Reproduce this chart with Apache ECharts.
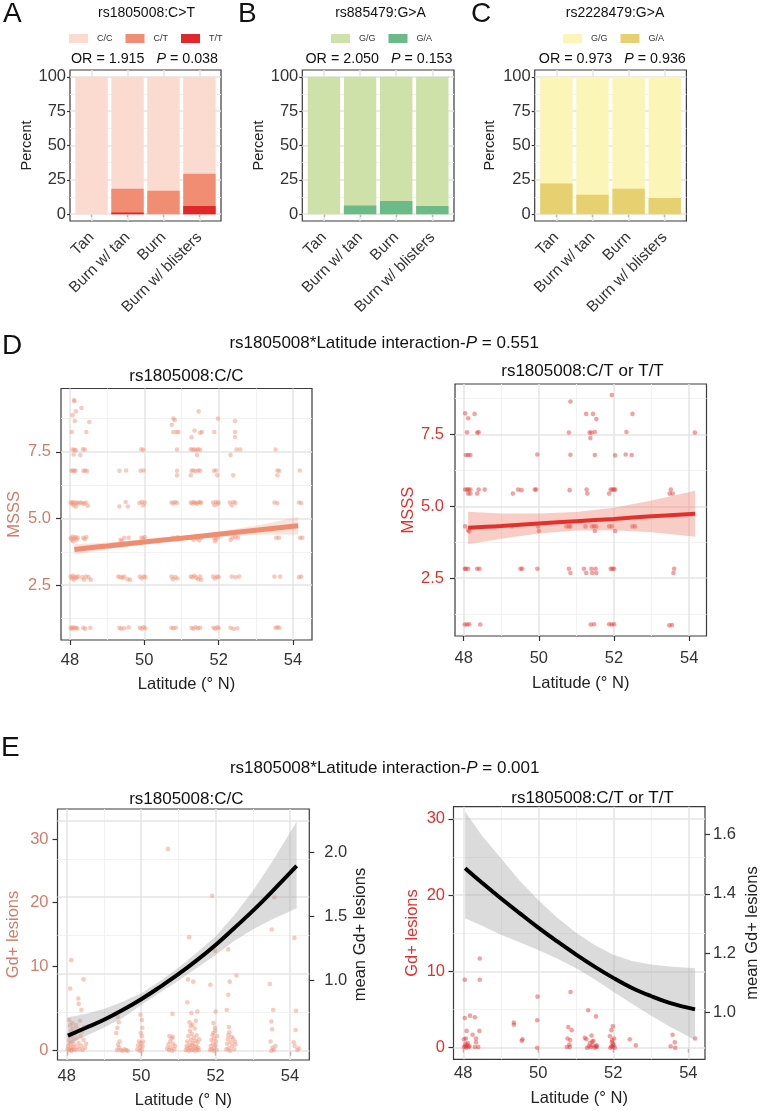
<!DOCTYPE html>
<html><head><meta charset="utf-8">
<script src="https://cdn.jsdelivr.net/npm/echarts@6/dist/echarts.min.js"></script>
<style>html,body{margin:0;padding:0;background:#fff}#c{width:762px;height:1111px}</style>
</head><body><div id="c"></div>
<script>
const FONT = '"Liberation Sans", Arial, Helvetica, sans-serif';
const SALMON_TXT = '#D47C68';
const RED_TXT = '#E5302A';

// ---------- Panels A-C : stacked genotype percentages ----------
const skinCats = ['Tan', 'Burn w/ tan', 'Burn', 'Burn w/ blisters'];
const aCC = [100, 81.5, 82.9, 70.5];
const aCT = [0, 17.3, 17.1, 23.5];
const aTT = [0, 1.2, 0, 6.0];
const bGG = [100, 93.7, 90.4, 94.0];
const bGA = [0, 6.3, 9.6, 6.0];
const cGG = [77.7, 85.8, 81.5, 88.2];
const cGA = [22.3, 14.2, 18.5, 11.8];
const pctTicks = [0, 25, 50, 75, 100];
const pctMinor = [12.5, 37.5, 62.5, 87.5];

// ---------- Shared tick labels ----------
const latTicks = [48, 50, 52, 54];
const latMinor = [49, 51, 53];
const msssTicks = [2.5, 5.0, 7.5];
const msssMinor = [1.25, 3.75, 6.25, 8.75];
const gdTicks = [0, 10, 20, 30];
const gdMinor = [5, 15, 25];
const eLeftGdLabelAt = [0, 10.95, 19.3, 27.56];
const eLeftMeanTicks = [1.0, 1.5, 2.0];
const eRightMeanTicks = [1.0, 1.2, 1.4, 1.6];

// ---------- Panel D : MSSS vs latitude ----------
const dLeftPts = [
 [48.11,9.45],[48.12,9.40],[48.16,9.02],[48.31,9.15],[48.07,8.88],[48.13,8.66],[48.52,8.62],[48.05,8.25],[48.44,8.25],
 [48.07,7.59],[48.12,7.58],[48.16,7.56],[48.35,7.60],[48.40,7.59],[48.10,7.40],[48.28,7.38],
 [48.04,6.79],[48.08,6.80],[48.12,6.78],[48.15,6.80],[48.36,6.79],[48.41,6.80],[48.46,6.78],
 [48.02,5.60],[48.05,5.55],[48.08,5.62],[48.10,5.50],[48.13,5.58],[48.16,5.45],[48.19,5.60],[48.22,5.56],[48.28,5.60],[48.33,5.58],[48.38,5.55],[48.43,5.60],[48.48,5.48],
 [48.02,4.27],[48.05,4.20],[48.07,4.32],[48.09,4.15],[48.12,4.25],[48.15,4.30],[48.18,4.20],[48.21,4.28],[48.36,4.28],[48.40,4.22],[48.44,4.30],
 [48.02,2.82],[48.05,2.75],[48.08,2.85],[48.11,2.70],[48.14,2.80],[48.18,2.78],[48.22,2.82],[48.33,2.80],[48.38,2.70],[48.43,2.82],[48.50,2.80],[48.56,2.70],
 [48.02,0.90],[48.05,0.86],[48.08,0.92],[48.12,0.88],[48.16,0.90],[48.20,0.87],[48.36,0.90],[48.41,0.86],[48.55,0.90],
 [49.33,6.79],[49.51,6.80],[49.33,5.45],[49.50,5.62],[49.56,5.45],[49.36,4.20],[49.46,4.28],[49.58,4.28],[49.40,4.15],
 [49.30,2.82],[49.36,2.80],[49.42,2.78],[49.46,2.82],[49.55,2.72],[49.62,2.70],[49.33,0.90],[49.38,0.86],[49.46,0.88],[49.58,0.92],
 [49.92,7.60],[49.97,7.58],[49.90,6.79],[49.98,6.80],[49.87,5.58],[49.93,5.62],[49.97,5.50],[50.01,5.60],[49.92,4.28],[49.97,4.25],[50.01,4.30],
 [49.88,2.82],[49.93,2.75],[49.98,2.82],[50.03,2.80],[49.88,0.90],[49.93,0.86],[49.98,0.92],[50.03,0.88],
 [50.78,8.75],[50.82,8.70],[50.74,8.52],[50.78,8.25],[50.87,8.25],[50.92,8.25],[50.88,7.59],[50.88,6.79],[50.88,6.62],
 [50.73,5.60],[50.78,5.56],[50.83,5.62],[50.88,5.58],[50.77,4.28],[50.83,4.25],[50.90,4.30],
 [50.73,2.82],[50.77,2.72],[50.83,2.80],[50.89,2.75],[50.73,0.90],[50.78,0.88],[50.85,0.90],
 [51.46,9.02],[51.35,8.30],[51.27,8.05],[51.55,8.25],[51.50,8.22],
 [51.25,7.60],[51.30,7.58],[51.35,7.60],[51.40,7.56],[51.45,7.60],[51.50,7.58],[51.42,7.38],
 [51.27,6.79],[51.32,6.80],[51.38,6.78],[51.45,6.80],[51.50,6.79],[51.25,6.62],
 [51.25,5.60],[51.29,5.56],[51.33,5.62],[51.37,5.58],[51.41,5.55],[51.45,5.60],[51.50,5.62],[51.53,5.58],
 [51.27,4.28],[51.32,4.20],[51.38,4.30],[51.43,4.25],[51.48,4.18],[51.52,4.28],
 [51.25,2.82],[51.30,2.80],[51.35,2.85],[51.40,2.78],[51.45,2.72],[51.50,2.82],[51.53,2.70],
 [51.27,0.90],[51.32,0.86],[51.38,0.92],[51.44,0.88],[51.50,0.90],
 [51.98,8.75],[51.88,8.25],[51.87,6.79],[51.93,6.80],[51.96,6.62],
 [51.85,5.60],[51.89,5.50],[51.93,5.62],[51.97,5.55],[52.00,5.60],[51.88,4.28],[51.93,4.22],[51.98,4.30],[51.90,4.15],
 [51.85,2.82],[51.90,2.75],[51.95,2.82],[52.00,2.80],[51.86,0.90],[51.91,0.86],[51.96,0.92],[52.00,0.88],
 [52.44,8.66],[52.44,8.25],[52.44,8.06],[52.48,7.59],[52.58,7.59],[52.32,7.38],[52.39,6.62],
 [52.30,5.60],[52.35,5.50],[52.40,5.62],[52.45,5.58],[52.32,4.20],[52.37,4.28],[52.45,4.30],[52.52,4.28],
 [52.35,2.82],[52.45,2.80],[52.55,2.82],[52.32,0.90],[52.40,0.86],[52.50,0.88],
 [53.53,7.59],[53.58,6.80],[53.63,6.79],[53.58,6.62],[53.50,5.60],[53.58,5.58],[53.55,4.28],[53.62,4.28],
 [53.50,2.82],[53.65,2.82],[53.53,0.90],[53.58,0.92],[53.63,0.90],
 [54.18,6.80],[54.16,5.60],[54.22,5.58],[54.19,4.28],[54.25,4.28],[54.16,2.80],[54.22,2.82]
];
const dRightPts = [
 [51.94,8.87],[50.84,8.64],[48.04,8.23],[48.29,8.21],[48.12,8.06],[51.26,8.21],[51.44,8.21],[51.53,8.03],[52.49,8.21],
 [48.09,7.57],[48.36,7.56],[48.40,7.57],[50.80,7.56],[51.35,7.56],[51.40,7.56],[51.49,7.58],[51.37,7.37],[52.33,7.58],[54.15,7.56],
 [48.06,6.78],[48.12,6.78],[48.18,6.78],[49.96,6.80],[50.84,6.79],[51.49,6.78],[52.03,6.77],[52.31,6.80],[52.47,6.78],
 [48.04,5.58],[48.09,5.58],[48.13,5.58],[48.18,5.58],[48.12,5.44],[48.18,5.44],[48.36,5.44],[48.40,5.58],[48.56,5.58],[49.31,5.44],
 [49.45,5.58],[49.54,5.56],[49.89,5.58],[49.93,5.58],[50.82,5.56],[51.27,5.58],[51.29,5.44],[51.87,5.44],[51.91,5.58],[51.96,5.58],
 [52.00,5.58],[52.03,5.58],[53.48,5.44],[53.51,5.58],[53.56,5.44],
 [48.04,4.30],[48.12,4.17],[48.15,4.12],[49.29,4.30],[49.98,4.30],[50.00,4.14],[50.73,4.30],[50.80,4.30],[50.84,4.30],[51.24,4.30],
 [51.42,4.30],[51.47,4.30],[51.49,4.14],[51.53,4.30],[51.87,4.30],[51.94,4.30],[52.03,4.14],[52.49,4.30],[52.56,4.30],
 [48.03,2.83],[48.06,2.83],[48.12,2.83],[48.36,2.83],[48.42,2.83],[49.51,2.83],[49.56,2.83],[49.96,2.83],[50.80,2.83],[50.84,2.68],
 [51.20,2.83],[51.26,2.68],[51.40,2.83],[51.42,2.68],[51.51,2.83],[51.53,2.68],[51.91,2.83],[51.96,2.83],[52.00,2.83],[53.60,2.83],[53.58,2.68],
 [48.03,0.89],[48.09,0.89],[48.15,0.90],[48.44,0.89],[51.38,0.89],[51.47,0.90],[51.87,0.90],[51.94,0.89],[52.00,0.90],[53.47,0.86],[53.54,0.87]
];
const dLeftFitLat = [48.12, 49, 50, 51, 52, 53, 54.14];
const dLeftFit = [3.84, 3.97, 4.12, 4.26, 4.41, 4.56, 4.73];
const dLeftLo = [3.65, 3.84, 4.03, 4.185, 4.31, 4.39, 4.40];
const dLeftHi = [4.03, 4.10, 4.21, 4.335, 4.51, 4.73, 5.06];
const dRightFitLat = [48.12, 49, 50, 51, 52, 53, 54.16];
const dRightFit = [4.25, 4.31, 4.40, 4.48, 4.56, 4.65, 4.74];
const dRightLo = [3.68, 3.87, 4.05, 4.16, 4.17, 4.10, 3.94];
const dRightHi = [4.81, 4.75, 4.75, 4.80, 4.95, 5.20, 5.54];

// ---------- Panel E : Gd+ lesions vs latitude ----------
const eLeftPts = [
 [50.72,26.3],[51.91,20.2],[53.58,20.0],[51.29,14.8],[53.51,15.8],[54.12,14.7],[52.34,13.2],[51.99,13.0],
 [48.12,11.8],[48.09,8.1],[48.45,9.3],[51.26,9.3],[51.40,9.0],[52.38,9.0],[52.56,9.8],[53.46,8.7],[51.86,8.6],[52.34,7.3],
 [48.31,6.8],[48.32,6.1],[48.39,5.3],[51.24,6.3],[51.35,4.9],[51.51,5.1],[50.84,4.8],[52.00,5.1],[52.30,5.3],[53.55,5.3],[54.16,5.2],
 [53.50,3.8],[53.52,2.8],[54.15,2.7],[49.37,4.4],[49.40,3.7],[49.98,4.7],[50.02,4.0],[51.30,3.7],[51.33,3.2],[51.98,3.0],[51.94,2.3],
 [52.34,2.0],[52.43,1.8],[52.52,1.2],[49.36,3.0],[49.33,2.3],[49.42,1.2],[49.38,0.8],[50.02,1.9],[50.05,1.2],[50.76,1.9],[50.82,1.6],
 [48.02,0.2],[48.04,0.6],[48.05,1.4],[48.06,0.1],[48.07,2.0],[48.08,0.9],[48.09,3.3],[48.10,0.4],[48.11,2.6],[48.12,1.1],[48.13,0.1],
 [48.14,1.8],[48.15,3.6],[48.16,0.5],[48.17,2.9],[48.18,1.3],[48.19,0.2],[48.20,0.8],[48.22,2.2],[48.24,0.1],[48.26,1.6],[48.28,0.5],
 [48.30,2.8],[48.32,1.0],[48.34,0.2],[48.36,3.9],[48.37,1.9],[48.39,0.6],[48.41,2.5],[48.43,0.1],[48.45,1.4],[48.47,3.1],[48.49,0.4],
 [48.52,0.9],[48.06,4.0],[48.12,0.0],[48.25,3.3],
 [49.35,0.1],[49.40,0.4],[49.45,0.1],[49.50,0.0],[49.55,0.2],[49.60,0.1],[49.64,0.0],
 [49.90,0.2],[49.92,0.7],[49.94,1.2],[49.96,0.0],[49.98,0.5],[50.00,1.0],[50.02,0.1],[50.04,0.6],[49.99,2.3],[50.03,3.0],
 [50.70,0.3],[50.73,0.8],[50.75,0.1],[50.78,1.2],[50.80,0.4],[50.83,0.0],[50.86,0.9],[50.89,0.2],[50.91,0.6],[50.85,1.8],
 [51.20,0.1],[51.22,0.6],[51.24,1.2],[51.25,0.3],[51.27,1.9],[51.28,0.0],[51.30,0.8],[51.31,2.6],[51.32,0.4],[51.34,1.4],[51.35,0.1],
 [51.36,2.2],[51.37,0.7],[51.39,1.0],[51.40,0.2],[51.41,1.7],[51.43,0.5],[51.44,2.9],[51.45,0.0],[51.46,1.3],[51.48,0.6],[51.49,2.0],
 [51.50,0.2],[51.52,1.1],[51.53,0.4],[51.55,0.1],[51.56,1.5],[51.38,3.4],[51.47,3.9],
 [51.85,0.1],[51.87,0.6],[51.89,1.4],[51.90,0.2],[51.92,2.0],[51.93,0.9],[51.95,0.0],[51.96,1.6],[51.97,0.4],[51.99,2.6],[52.00,0.7],
 [52.01,1.2],[52.03,0.1],[52.04,1.9],[51.94,3.6],
 [52.29,0.2],[52.31,0.9],[52.33,1.5],[52.35,0.3],[52.37,2.4],[52.39,0.0],[52.41,1.1],[52.44,0.6],[52.47,1.6],[52.50,0.2],[52.53,0.8],[52.36,3.1],
 [53.48,1.2],[53.53,0.4],[53.57,0.1],[53.61,0.6],[53.50,0.0],[54.10,1.1],[54.13,0.6],[54.20,0.1],[54.24,0.3]
];
const eRightPts = [
 [48.44,11.7],[48.04,8.9],[48.44,8.9],[49.98,6.7],[50.86,7.3],[51.33,4.9],[51.54,4.1],[49.97,3.6],
 [48.04,3.9],[48.18,4.2],[48.31,4.0],[49.35,3.3],[49.35,3.0],[50.80,2.7],[50.89,2.3],[48.09,2.2],[48.43,2.2],
 [48.25,1.7],[48.34,1.2],[48.34,0.7],[48.02,1.1],[48.07,1.2],[49.58,1.1],[49.56,0.9],[50.78,1.2],[50.85,1.0],[50.83,0.4],
 [51.24,1.3],[51.28,1.1],[51.42,1.6],[51.47,0.9],[51.56,0.3],[51.95,2.3],[51.99,2.8],[51.91,1.5],[52.02,1.2],[51.96,0.7],
 [52.44,1.1],[52.60,0.3],[53.58,1.7],[53.64,0.7],[53.53,0.2],[53.65,0.0],[54.18,1.2],
 [48.02,0.1],[48.05,0.2],[48.08,0.0],[48.11,0.3],[48.14,0.1],[48.17,0.2],[48.06,0.5],[48.12,0.6],[48.31,0.1],[48.40,0.1],
 [49.97,0.0],[50.76,0.1],[50.84,0.1],
 [51.30,0.0],[51.35,0.2],[51.40,0.1],[51.45,0.3],[51.50,0.0],[51.53,0.2],[51.56,0.1],[51.38,0.6],[51.44,0.8],
 [51.92,0.0],[51.95,0.2],[51.98,0.1],[52.01,0.3],[52.04,0.0],[51.97,1.0],[52.00,0.5]
];
const eLeftFitLat = [48.03, 48.5, 49, 49.5, 50, 50.5, 51, 51.5, 52, 52.5, 53, 53.5, 54.18];
const eLeftMean = [0.570, 0.630, 0.694, 0.770, 0.855, 0.950, 1.050, 1.160, 1.279, 1.410, 1.545, 1.690, 1.896];
const eLeftLo = [0.503, 0.566, 0.633, 0.708, 0.810, 0.905, 1.000, 1.100, 1.200, 1.310, 1.400, 1.475, 1.566];
const eLeftHi = [0.714, 0.740, 0.779, 0.835, 0.902, 0.995, 1.100, 1.220, 1.344, 1.510, 1.700, 1.920, 2.242];
const eRightFitLat = [48.05, 48.5, 49, 49.5, 50, 50.5, 51, 51.5, 52, 52.5, 53, 53.5, 54.18];
const eRightMean = [1.486, 1.437, 1.385, 1.335, 1.286, 1.240, 1.196, 1.155, 1.117, 1.083, 1.056, 1.033, 1.011];
const eRightLo = [1.318, 1.292, 1.262, 1.237, 1.211, 1.182, 1.150, 1.112, 1.070, 1.030, 0.990, 0.953, 0.908];
const eRightHi = [1.677, 1.595, 1.520, 1.445, 1.379, 1.320, 1.270, 1.228, 1.195, 1.174, 1.162, 1.155, 1.149];

// ---------- helpers ----------
const MAJ = {color: '#E4E4E4', width: 1.5, type: 'solid'};
const MIN = {color: '#F0F0F0', width: 0.9, type: 'solid'};

function axis(p) {
  return {
    type: 'value', gridIndex: p.grid, position: p.pos, min: p.min, max: p.max,
    axisLine: {show: false}, splitLine: {show: false}, minorSplitLine: {show: false},
    axisTick: {show: true, length: p.tick == null ? 5 : p.tick, customValues: p.ticks, lineStyle: {color: '#333', width: 1.2}},
    axisLabel: {show: true, customValues: p.ticks, formatter: p.fmt, margin: p.margin, rotate: p.rotate || 0,
      fontFamily: FONT, fontSize: p.fs, color: p.color || '#333'},
    name: p.name || '', nameLocation: 'middle', nameGap: p.nameGap || 0,
    nameTextStyle: {fontFamily: FONT, fontSize: p.nfs || p.fs, color: p.color || '#222'}
  };
}
function gridLines(xi, yi, xMaj, xMin, yMaj, yMin) {
  const d = [];
  xMin.forEach(v => d.push({xAxis: v, lineStyle: MIN}));
  yMin.forEach(v => d.push({yAxis: v, lineStyle: MIN}));
  xMaj.forEach(v => d.push({xAxis: v, lineStyle: MAJ}));
  yMaj.forEach(v => d.push({yAxis: v, lineStyle: MAJ}));
  return {type: 'line', xAxisIndex: xi, yAxisIndex: yi, data: [], z: 1, silent: true,
    markLine: {silent: true, z: 1, animation: false, symbol: ['none', 'none'], label: {show: false},
      emphasis: {disabled: true}, data: d}};
}
function sumArr(arrs) { return arrs[0].map((_, i) => arrs.reduce((s, a) => s + a[i], 0)); }
function barSeries(xi, name, tops, color) {
  return {type: 'bar', name, xAxisIndex: xi, yAxisIndex: xi, barWidth: 32.4, barGap: '-100%', z: 2,
    itemStyle: {color}, data: tops.map((v, i) => [i + 1, v])};
}
function scatter(xi, yi, pts, color) {
  return {type: 'scatter', xAxisIndex: xi, yAxisIndex: yi, symbolSize: 4.6, z: 3, silent: true,
    itemStyle: {color}, data: pts};
}
function ribbon(xi, yi, lat, lo, hi, color) {
  const data = lat.map((x, i) => [x, lo[i], hi[i]]);
  return {type: 'custom', xAxisIndex: xi, yAxisIndex: yi, z: 4, silent: true, data,
    encode: {x: 0, y: [1, 2]},
    renderItem(params, api) {
      if (params.dataIndex !== 0) return;
      const top = data.map(d => api.coord([d[0], d[2]]));
      const bot = data.map(d => api.coord([d[0], d[1]])).reverse();
      return {type: 'polygon', shape: {points: top.concat(bot)}, style: {fill: color}};
    }};
}
function fitLine(xi, yi, lat, vals, color, width) {
  return {type: 'line', xAxisIndex: xi, yAxisIndex: yi, z: 5, silent: true, symbol: 'none', smooth: 0.4,
    lineStyle: {color, width, cap: 'butt'}, data: lat.map((x, i) => [x, vals[i]])};
}
const catPos = skinCats.map((_, i) => i + 1);
const catFmt = v => skinCats[Math.round(v) - 1];
const f1 = v => Number(v).toFixed(1);
const eLeftFmt = v => {
  let best = 0;
  eLeftGdLabelAt.forEach((p, i) => { if (Math.abs(p - v) < Math.abs(eLeftGdLabelAt[best] - v)) best = i; });
  return String(gdTicks[best]);
};

const gridBase = {show: true, borderColor: '#3a3a3a', borderWidth: 1.2, backgroundColor: 'transparent', containLabel: false, outerBoundsMode: 'none'};
const grids = [
  {left: 70, top: 70, width: 151, height: 151},
  {left: 302.3, top: 70, width: 151.7, height: 151},
  {left: 534.7, top: 70, width: 151.7, height: 151},
  {left: 61, top: 388.5, width: 251, height: 251.5},
  {left: 455, top: 384, width: 251.5, height: 252},
  {left: 57.5, top: 809, width: 251.8, height: 251},
  {left: 453.5, top: 806.7, width: 251.5, height: 252.6}
].map(g => Object.assign({}, gridBase, g));

const xAxes = [
  axis({grid: 0, pos: 'bottom', min: 0.4, max: 4.6, ticks: catPos, fmt: catFmt, rotate: 45, fs: 15.5, margin: 14, tick: 3}),
  axis({grid: 1, pos: 'bottom', min: 0.4, max: 4.6, ticks: catPos, fmt: catFmt, rotate: 45, fs: 15.5, margin: 14, tick: 3}),
  axis({grid: 2, pos: 'bottom', min: 0.4, max: 4.6, ticks: catPos, fmt: catFmt, rotate: 45, fs: 15.5, margin: 14, tick: 3}),
  axis({grid: 3, pos: 'bottom', min: 47.76, max: 54.51, ticks: latTicks, fmt: v => String(v), fs: 16.5, margin: 12, name: 'Latitude (° N)', nameGap: 35.5}),
  axis({grid: 4, pos: 'bottom', min: 47.77, max: 54.46, ticks: latTicks, fmt: v => String(v), fs: 16.5, margin: 14, name: 'Latitude (° N)', nameGap: 39}),
  axis({grid: 5, pos: 'bottom', min: 47.75, max: 54.52, ticks: latTicks, fmt: v => String(v), fs: 16.5, margin: 8, name: 'Latitude (° N)', nameGap: 31.5}),
  axis({grid: 6, pos: 'bottom', min: 47.74, max: 54.445, ticks: latTicks, fmt: v => String(v), fs: 16.5, margin: 6, name: 'Latitude (° N)', nameGap: 30.5})
];
const yAxes = [
  axis({grid: 0, pos: 'left', min: -5, max: 105, ticks: pctTicks, fmt: v => String(v), fs: 16.5, margin: 4, tick: 3, name: 'Percent', nfs: 14.5, nameGap: 35.7}),
  axis({grid: 1, pos: 'left', min: -5, max: 105, ticks: pctTicks, fmt: v => String(v), fs: 16.5, margin: 4, tick: 3, name: 'Percent', nfs: 14.5, nameGap: 32}),
  axis({grid: 2, pos: 'left', min: -5, max: 105, ticks: pctTicks, fmt: v => String(v), fs: 16.5, margin: 4, tick: 3, name: 'Percent', nfs: 14.5, nameGap: 37.5}),
  axis({grid: 3, pos: 'left', min: 0.44, max: 9.88, ticks: msssTicks, fmt: f1, fs: 16.5, margin: 10, name: 'MSSS', nameGap: 38, color: SALMON_TXT}),
  axis({grid: 4, pos: 'left', min: 0.49, max: 9.25, ticks: msssTicks, fmt: f1, fs: 16.5, margin: 11, name: 'MSSS', nameGap: 37, color: RED_TXT}),
  axis({grid: 5, pos: 'left', min: -1.21, max: 31.5, ticks: eLeftGdLabelAt, fmt: eLeftFmt, fs: 16.5, margin: 9, name: 'Gd+ lesions', nameGap: 36, color: SALMON_TXT}),
  axis({grid: 6, pos: 'left', min: -1.52, max: 31.59, ticks: gdTicks, fmt: v => String(v), fs: 16.5, margin: 8.5, name: 'Gd+ lesions', nameGap: 32.5, color: RED_TXT}),
  axis({grid: 5, pos: 'right', min: 0.380, max: 2.341, ticks: eLeftMeanTicks, fmt: f1, fs: 16.5, margin: 15, name: 'mean Gd+ lesions', nameGap: 43}),
  axis({grid: 6, pos: 'right', min: 0.843, max: 1.693, ticks: eRightMeanTicks, fmt: f1, fs: 16.5, margin: 8, name: 'mean Gd+ lesions', nameGap: 39})
];

const series = [
  gridLines(0, 0, catPos, [], pctTicks, pctMinor),
  gridLines(1, 1, catPos, [], pctTicks, pctMinor),
  gridLines(2, 2, catPos, [], pctTicks, pctMinor),
  gridLines(3, 3, latTicks, latMinor, msssTicks, msssMinor),
  gridLines(4, 4, latTicks, latMinor, msssTicks, msssMinor),
  gridLines(5, 5, latTicks, latMinor, gdTicks, gdMinor),
  gridLines(6, 6, latTicks, latMinor, gdTicks, gdMinor),
  // A
  barSeries(0, 'A:C/C', sumArr([aCC, aCT, aTT]), '#FBDACF'),
  barSeries(0, 'A:C/T', sumArr([aCT, aTT]), '#F08D72'),
  barSeries(0, 'A:T/T', aTT, '#E0282A'),
  // B
  barSeries(1, 'B:G/G', sumArr([bGG, bGA]), '#CDE1A8'),
  barSeries(1, 'B:G/A', bGA, '#6BBB88'),
  // C
  barSeries(2, 'C:G/G', sumArr([cGG, cGA]), '#FBF5B8'),
  barSeries(2, 'C:G/A', cGA, '#E7D06F'),
  // D
  scatter(3, 3, dLeftPts, 'rgba(240,136,110,0.55)'),
  ribbon(3, 3, dLeftFitLat, dLeftLo, dLeftHi, 'rgba(240,165,145,0.30)'),
  fitLine(3, 3, dLeftFitLat, dLeftFit, '#F08C70', 5),
  scatter(4, 4, dRightPts, 'rgba(228,40,40,0.55)'),
  ribbon(4, 4, dRightFitLat, dRightLo, dRightHi, 'rgba(238,130,110,0.40)'),
  fitLine(4, 4, dRightFitLat, dRightFit, '#E2302B', 4),
  // E
  scatter(5, 5, eLeftPts, 'rgba(240,136,110,0.55)'),
  ribbon(5, 7, eLeftFitLat, eLeftLo, eLeftHi, 'rgba(165,165,165,0.40)'),
  fitLine(5, 7, eLeftFitLat, eLeftMean, '#000', 4),
  scatter(6, 6, eRightPts, 'rgba(228,40,40,0.55)'),
  ribbon(6, 8, eRightFitLat, eRightLo, eRightHi, 'rgba(165,165,165,0.40)'),
  fitLine(6, 8, eRightFitLat, eRightMean, '#000', 4)
];

function legend(names, left) {
  return {data: names, left, top: 34, padding: 0, itemWidth: 19, itemHeight: 9, itemGap: 13, icon: 'rect',
    selectedMode: false, formatter: n => n.slice(2),
    textStyle: {fontFamily: FONT, fontSize: 9, color: '#333', padding: [0, 0, 0, 4]}};
}

function T(text, x, y, fs, extra) {
  return {type: 'text', silent: true, style: Object.assign({text, x, y, fontSize: fs, fontFamily: FONT,
    fill: '#111', align: 'center', verticalAlign: 'middle',
    rich: {i: {fontStyle: 'italic', fontSize: fs, fontFamily: FONT, fill: '#111'}}}, extra || {})};
}
const texts = [
  T('A', 3, 14.5, 28, {align: 'left'}), T('B', 238, 14.5, 28, {align: 'left'}), T('C', 471, 14.5, 28, {align: 'left'}),
  T('D', 2, 346.5, 28, {align: 'left'}), T('E', 1, 748, 28, {align: 'left'}),
  T('rs1805008:C>T', 146.5, 13.5, 14), T('rs885479:G>A', 380.5, 13.5, 14), T('rs2228479:G>A', 615, 13.5, 14),
  T('OR = 1.915   {i|P} = 0.038', 144.5, 59.5, 14.3),
  T('OR = 2.050   {i|P} = 0.153', 379, 59.5, 14.3),
  T('OR = 0.973   {i|P} = 0.936', 612.3, 59.5, 14.3),
  T('rs1805008*Latitude interaction-{i|P} = 0.551', 384.2, 343, 17),
  T('rs1805008*Latitude interaction-{i|P} = 0.001', 384.7, 768.3, 17),
  T('rs1805008:C/C', 186.4, 376.7, 17), T('rs1805008:C/T or T/T', 582.5, 371.7, 17),
  T('rs1805008:C/C', 186.3, 799.3, 17), T('rs1805008:C/T or T/T', 592.5, 798.3, 17)
];

const chart = echarts.init(document.getElementById('c'), null, {renderer: 'canvas'});
chart.setOption({
  animation: false,
  backgroundColor: '#fff',
  textStyle: {fontFamily: FONT},
  tooltip: {show: false},
  grid: grids,
  xAxis: xAxes,
  yAxis: yAxes,
  legend: [
    legend(['A:C/C', 'A:C/T', 'A:T/T'], 69),
    legend(['B:G/G', 'B:G/A'], 331),
    legend(['C:G/G', 'C:G/A'], 563)
  ],
  graphic: {elements: texts},
  series
});
</script>
</body></html>
